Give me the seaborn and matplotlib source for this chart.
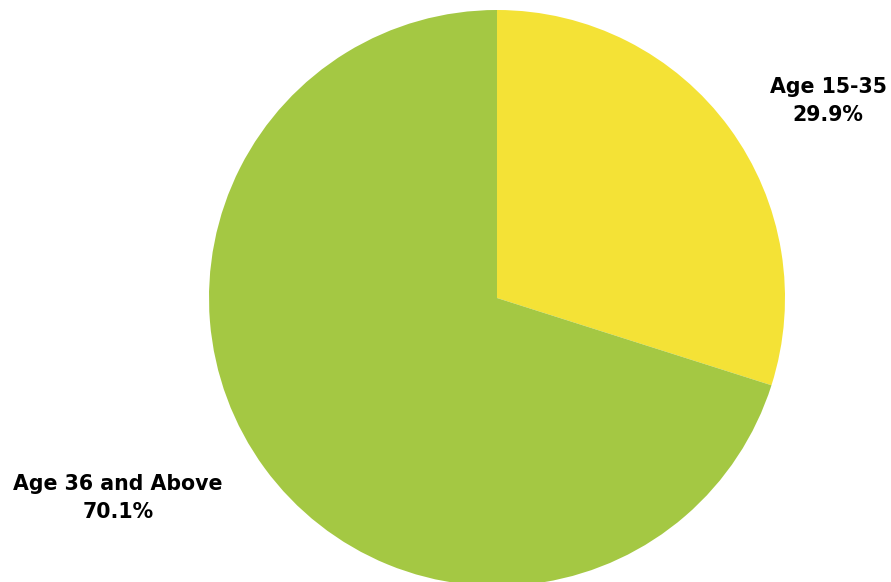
import seaborn as sns
import matplotlib.pyplot as plt

# data
groups = ["Age 15-35", "Age 36 and Above"]
shares = [29.9, 70.1]
slice_colors = ["#F4E236", "#A4C843"]

sns.set_theme(style="white")
plt.rcParams["font.family"] = ["DejaVu Sans"]

fig = plt.figure(figsize=(8.91, 5.82), dpi=100)
ax = fig.add_axes([0, 0, 1, 1])

ax.pie(
    shares,
    colors=sns.color_palette(slice_colors),
    startangle=90,
    counterclock=False,
    center=(497, 284),
    radius=288,
    wedgeprops={"linewidth": 0},
)

# label positions (pixels, from top-left)
label_pos = [(828, 101), (118, 498)]
for name, pct, (px, py) in zip(groups, shares, label_pos):
    ax.text(px, 582 - py, f"{name}\n{pct}%", ha="center", va="center",
            fontsize=14.8, fontweight="heavy", color="black", linespacing=1.55)

ax.set_xlim(0, 891)
ax.set_ylim(0, 582)
ax.set_aspect("equal")
ax.axis("off")

fig.savefig("out.png", dpi=100)
